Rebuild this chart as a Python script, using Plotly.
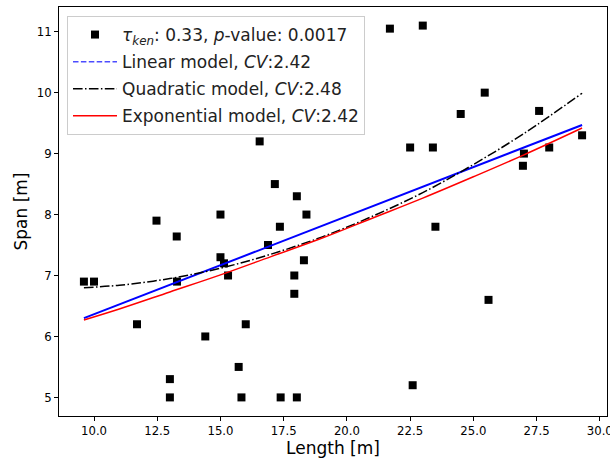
import plotly.graph_objects as go

# Observations (Length [m], Span [m])
length = [9.6, 10.0, 11.7, 12.47, 13.0, 13.0, 13.27, 13.28, 14.4, 15.0, 15.0, 15.14, 15.3,
          15.72, 15.83, 16.0, 16.55, 16.88, 17.15, 17.35, 17.38, 17.92, 17.92, 18.02, 18.02,
          18.3, 18.4, 21.7, 22.5, 22.6, 23.0, 23.4, 23.5, 24.5, 25.45, 25.6, 26.96, 27.0,
          27.6, 28.0, 29.3]
span = [6.9, 6.9, 6.2, 7.9, 5.3, 5.0, 7.64, 6.9, 6.0, 8.0, 7.3, 7.2, 7.0,
        5.5, 5.0, 6.2, 9.2, 7.5, 8.5, 7.8, 5.0, 7.0, 6.7, 8.3, 5.0,
        7.25, 8.0, 11.05, 9.1, 5.2, 11.1, 9.1, 7.8, 9.65, 10.0, 6.6, 8.8, 9.0,
        9.7, 9.1, 9.3]

# Model curves
lin_x = [9.6, 29.3]
lin_y = [6.3, 9.47]
curve_x = [9.6, 11, 13, 15, 17, 19, 21, 23, 25, 27, 29.3]
quad_y = [6.80, 6.84, 6.95, 7.12, 7.35, 7.63, 7.97, 8.36, 8.82, 9.33, 9.99]
exp_y = [6.27, 6.45, 6.73, 7.01, 7.31, 7.61, 7.94, 8.27, 8.62, 8.98, 9.42]

x_ticks = [10.0, 12.5, 15.0, 17.5, 20.0, 22.5, 25.0, 27.5, 30.0]
y_ticks = [5, 6, 7, 8, 9, 10, 11]

FONT = "DejaVu Sans"

fig = go.Figure()
fig.add_trace(go.Scatter(
    x=length, y=span, mode="markers",
    marker=dict(symbol="square", size=8, color="black"),
    name="<i>τ<sub>ken</sub></i>: 0.33, <i>p</i>-value: 0.0017",
    legendrank=1, legendgroup="a"))
fig.add_trace(go.Scatter(
    x=lin_x, y=lin_y, mode="lines", line=dict(color="blue", width=2),
    showlegend=False, hoverinfo="skip"))
fig.add_trace(go.Scatter(
    x=[None], y=[None], mode="lines",
    line=dict(color="rgba(0,0,255,0.7)", width=1.5, dash="5.5px,2.4px"),
    name="Linear model, <i>CV</i>:2.42", legendrank=2, legendgroup="b"))
fig.add_trace(go.Scatter(
    x=curve_x, y=quad_y, mode="lines",
    line=dict(color="black", width=1.5, shape="spline", dash="9.6px,2.4px,1.5px,2.4px"),
    name="Quadratic model, <i>CV</i>:2.48", legendrank=3, legendgroup="c"))
fig.add_trace(go.Scatter(
    x=curve_x, y=exp_y, mode="lines",
    line=dict(color="red", width=1.5, shape="spline"),
    name="Exponential model, <i>CV</i>:2.42", legendrank=4, legendgroup="d"))

axis_common = dict(showline=True, linecolor="black", linewidth=1, mirror=True,
                   ticks="outside", ticklen=4, tickcolor="black", showgrid=False,
                   zeroline=False, ticklabeloverflow="allow",
                   tickfont=dict(family=FONT, size=11.7, color="black"))

fig.update_layout(
    width=610, height=462,
    margin=dict(l=59, r=3, t=7, b=46, autoexpand=False),
    paper_bgcolor="white", plot_bgcolor="white",
    font=dict(family=FONT, color="black"),
    xaxis=dict(range=[8.615, 30.285], tickvals=x_ticks, tickformat=".1f",
               title=dict(text="Length [m]", font=dict(size=17), standoff=4),
               automargin=False, **axis_common),
    yaxis=dict(range=[4.695, 11.405], tickvals=y_ticks,
               title=dict(text="Span [m]", font=dict(size=17), standoff=4),
               automargin=False, **axis_common),
    legend=dict(x=0.0146, y=0.978, xanchor="left", yanchor="top",
                bgcolor="rgba(255,255,255,0.8)", bordercolor="#cccccc", borderwidth=1,
                font=dict(family=FONT, size=17, color="#222"), tracegroupgap=2,
                itemwidth=44),
)

fig.write_html("out.html", config={"displayModeBar": False},
               post_script="document.body.style.margin='0';")
